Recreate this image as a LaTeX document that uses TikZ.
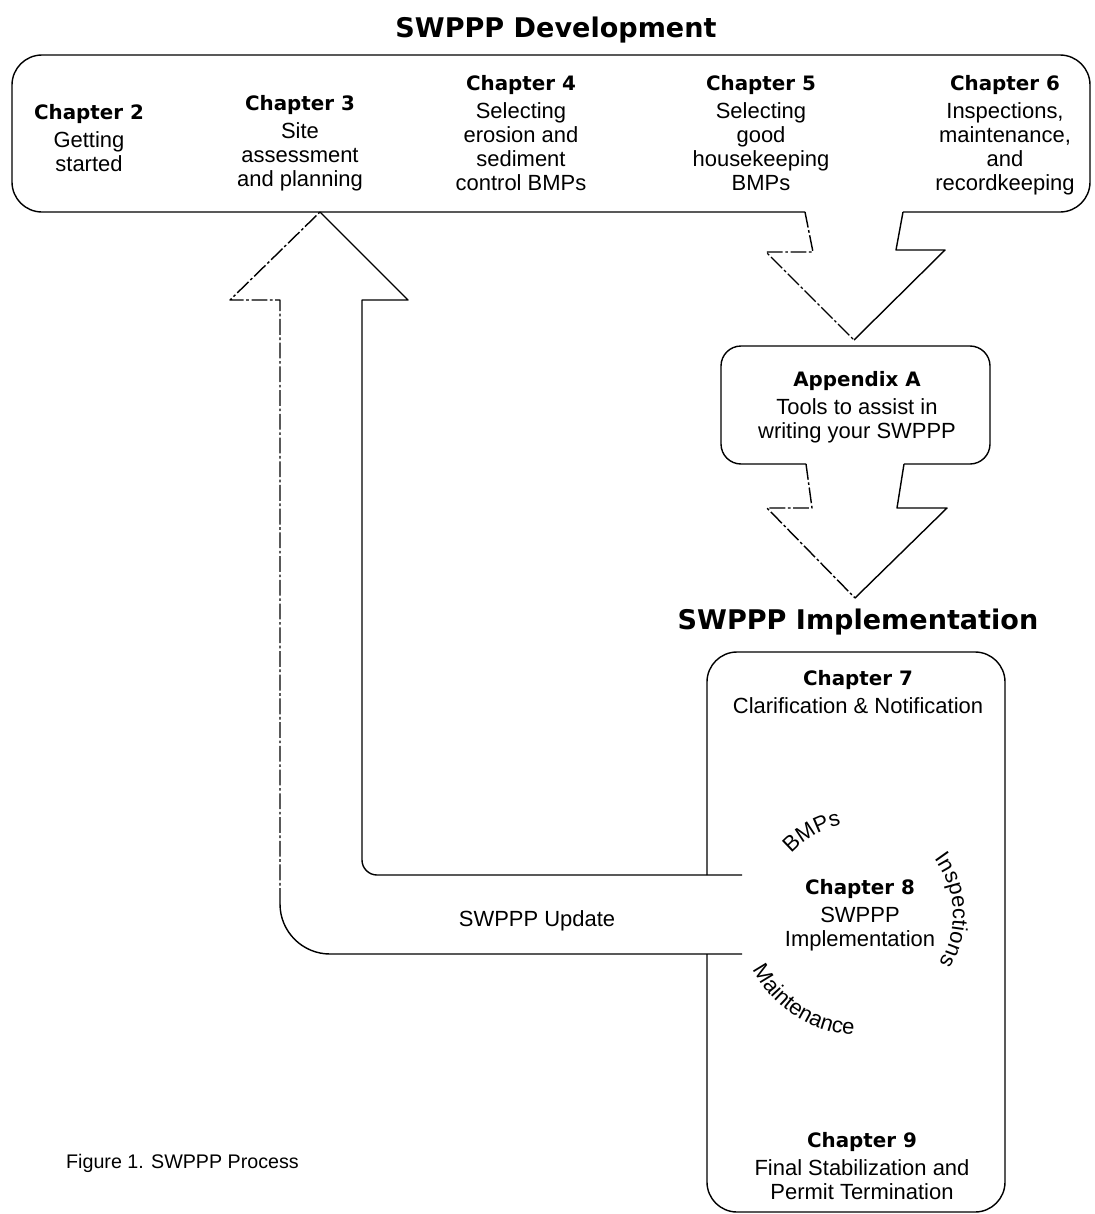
\documentclass[tikz,border=0pt]{standalone}
\usepackage{fontspec}
\setmainfont{Liberation Sans}
\newfontfamily\headfam{DejaVu Sans}
\usetikzlibrary{decorations.text}

\newcommand{\bodyfont}{\fontsize{12.5}{13.6}\selectfont}
\newcommand{\headfont}{\headfam\bfseries\fontsize{11.3}{13.6}\selectfont}
\newcommand{\titlefont}{\headfam\bfseries\fontsize{15.4}{18}\selectfont}

\tikzset{
  chap/.style={anchor=north, align=center, inner sep=0pt, font=\bodyfont},
  outline/.style={line width=0.8pt, line join=round},
  scan/.style={outline, dash pattern=on 9pt off 1.5pt on 1.5pt off 1.5pt},
}

\begin{document}
\begin{tikzpicture}[x=0.02cm, y=0.02cm]
\useasboundingbox (0,0) rectangle (1095,-1214);

%\draw[xstep=100,ystep=100,color=gray!40] (0,-1214) grid (1095,0);

\node[font=\titlefont] (devtitle) at (556,-30) {SWPPP Development};
\node[font=\titlefont] (imptitle) at (858,-622) {SWPPP Implementation};

% development box
\draw[outline, rounded corners=0.6cm] (903,-212) -- (1090,-212) -- (1090,-55) -- (12,-55) -- (12,-212) -- (805,-212);

\node[chap] (ch2) at (89,-104) {{\headfont Chapter 2}\\[2.3pt] Getting\\ started};
\node[chap] (ch3) at (300,-95) {{\headfont Chapter 3}\\[2.3pt] Site\\ assessment\\ and planning};
\node[chap] (ch4) at (521,-75) {{\headfont Chapter 4}\\[2.3pt] Selecting\\ erosion and\\ sediment\\ control BMPs};
\node[chap] (ch5) at (761,-75) {{\headfont Chapter 5}\\[2.3pt] Selecting\\ good\\ housekeeping\\ BMPs};
\node[chap] (ch6) at (1005,-75) {{\headfont Chapter 6}\\[2.3pt] Inspections,\\ maintenance,\\ and\\ recordkeeping};

% arrow down to appendix
\draw[scan] (805,-212) -- (813,-252) -- (766,-252) -- (854,-340);
\draw[outline] (854,-340) -- (945,-250) -- (896,-250) -- (903,-212);

\draw[outline, rounded corners=0.4cm] (904,-464) -- (990,-464) -- (990,-346) -- (721,-346) -- (721,-464) -- (806,-464);
\node[chap] (appA) at (857,-371) {{\headfont Appendix A}\\[2.3pt] Tools to assist in\\ writing your SWPPP};

% arrow down to implementation
\draw[scan] (806,-464) -- (812,-508) -- (767,-508) -- (855,-598);
\draw[outline] (855,-598) -- (947,-508) -- (897,-508) -- (904,-464);

% implementation box
\draw[outline, rounded corners=0.6cm] (707,-875) -- (707,-652) -- (1005,-652) -- (1005,-1212) -- (707,-1212) -- (707,-954);

\node[chap] (ch7) at (858,-670) {{\headfont Chapter 7}\\[2.3pt] Clarification \& Notification};
\node[chap] (ch8) at (860,-879) {{\headfont Chapter 8}\\[2.3pt] SWPPP\\ Implementation};
\node[chap] (ch9) at (862,-1132) {{\headfont Chapter 9}\\[2.3pt] Final Stabilization and\\ Permit Termination};

\path[decorate, decoration={text along path, text={|\bodyfont|BMPs}, text align=center}]
  (860,-915) ++(150:92) arc[start angle=150, end angle=90, radius=92];
\path[decorate, decoration={text along path, text={|\bodyfont|Inspections}, text align=center}]
  (860,-915) ++(45:93) arc[start angle=45, end angle=-39, radius=93];
\path[decorate, decoration={text along path, text={|\bodyfont|Maintenance}, text align=center}]
  (860,-915) ++(197:120) arc[start angle=197, end angle=277, radius=120];

% update arrow back to chapter 3
\draw[outline] (742,-875) -- (377,-875) arc[start angle=270, end angle=180, radius=15] -- (362,-300) -- (408,-300) -- (320,-212);
\draw[outline] (742,-954) -- (330,-954) arc[start angle=270, end angle=180, radius=50];
\draw[scan] (280,-904) -- (280,-300) -- (230,-300) -- (320,-212);

\node[font=\fontsize{12.5}{15}\selectfont] (update) at (537,-921) {SWPPP Update};
\node[anchor=west, font=\fontsize{11.2}{13}\selectfont] (caption) at (60,-1163) {Figure 1. SWPPP Process};

\end{tikzpicture}
\end{document}
